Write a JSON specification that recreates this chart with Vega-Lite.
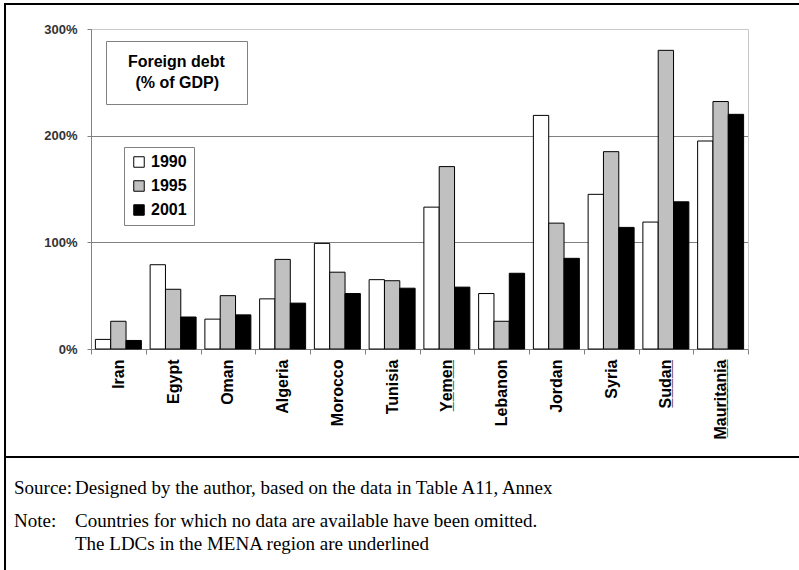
{
  "$schema": "https://vega.github.io/schema/vega-lite/v6.json",
  "padding": {"left": -4, "top": 3, "right": 0, "bottom": 0},
  "background": "white",
  "spacing": 0,
  "bounds": "flush",
  "config": {"view": {"stroke": "#000000", "strokeWidth": 2}, "font": "Liberation Sans"},
  "vconcat": [
    {
      "width": 798,
      "height": 453,
      "data": {
        "values": [
          {"country": "Iran", "year": "1990", "value": 9},
          {"country": "Iran", "year": "1995", "value": 26},
          {"country": "Iran", "year": "2001", "value": 8},
          {"country": "Egypt", "year": "1990", "value": 79},
          {"country": "Egypt", "year": "1995", "value": 56},
          {"country": "Egypt", "year": "2001", "value": 30},
          {"country": "Oman", "year": "1990", "value": 28},
          {"country": "Oman", "year": "1995", "value": 50},
          {"country": "Oman", "year": "2001", "value": 32},
          {"country": "Algeria", "year": "1990", "value": 47},
          {"country": "Algeria", "year": "1995", "value": 84},
          {"country": "Algeria", "year": "2001", "value": 43},
          {"country": "Morocco", "year": "1990", "value": 99},
          {"country": "Morocco", "year": "1995", "value": 72},
          {"country": "Morocco", "year": "2001", "value": 52},
          {"country": "Tunisia", "year": "1990", "value": 65},
          {"country": "Tunisia", "year": "1995", "value": 64},
          {"country": "Tunisia", "year": "2001", "value": 57},
          {"country": "Yemen", "year": "1990", "value": 133},
          {"country": "Yemen", "year": "1995", "value": 171},
          {"country": "Yemen", "year": "2001", "value": 58},
          {"country": "Lebanon", "year": "1990", "value": 52},
          {"country": "Lebanon", "year": "1995", "value": 26},
          {"country": "Lebanon", "year": "2001", "value": 71},
          {"country": "Jordan", "year": "1990", "value": 219},
          {"country": "Jordan", "year": "1995", "value": 118},
          {"country": "Jordan", "year": "2001", "value": 85},
          {"country": "Syria", "year": "1990", "value": 145},
          {"country": "Syria", "year": "1995", "value": 185},
          {"country": "Syria", "year": "2001", "value": 114},
          {"country": "Sudan", "year": "1990", "value": 119},
          {"country": "Sudan", "year": "1995", "value": 280},
          {"country": "Sudan", "year": "2001", "value": 138},
          {"country": "Mauritania", "year": "1990", "value": 195},
          {"country": "Mauritania", "year": "1995", "value": 232},
          {"country": "Mauritania", "year": "2001", "value": 220}
        ]
      },
      "layer": [
        {
          "mark": {"type": "bar", "strokeWidth": 1},
          "encoding": {
            "x": {
              "field": "country",
              "type": "nominal",
              "sort": ["Iran", "Egypt", "Oman", "Algeria", "Morocco", "Tunisia", "Yemen", "Lebanon", "Jordan", "Syria", "Sudan", "Mauritania"],
              "scale": {"range": [86, 743], "paddingInner": 0, "paddingOuter": 0},
              "axis": {
                "title": null,
                "orient": "bottom",
                "offset": -108,
                "labelAngle": -90,
                "labelFont": "Liberation Sans",
                "labelFontSize": 16,
                "labelFontWeight": "bold",
                "labelColor": "#000000",
                "labelPadding": 5,
                "tickBand": "extent",
                "tickSize": 5,
                "tickColor": "#808080",
                "domainColor": "#808080",
                "grid": false,
                "labelExpr": "indexof(['Yemen','Sudan','Mauritania'], datum.label) >= 0 ? replace(datum.label, regexp('(.)', 'g'), '$1\u0332') : datum.label"
              }
            },
            "y": {
              "field": "value",
              "type": "quantitative",
              "scale": {"domain": [0, 300], "range": [345, 25], "nice": false},
              "axis": {
                "title": null,
                "orient": "left",
                "offset": -86,
                "values": [0, 100, 200, 300],
                "labelExpr": "datum.value + '%'",
                "labelFont": "Liberation Sans",
                "labelFontSize": 13,
                "labelFontWeight": "bold",
                "labelColor": "#333333",
                "labelPadding": 10,
                "tickSize": 4,
                "tickColor": "#808080",
                "domainColor": "#808080",
                "grid": true,
                "gridColor": {"condition": {"test": "datum.value === 300", "value": "#c8c8c8"}, "value": "#808080"}
              }
            },
            "xOffset": {"field": "year", "type": "nominal", "scale": {"paddingInner": 0, "paddingOuter": 0.286}},
            "fill": {
              "field": "year",
              "type": "nominal",
              "scale": {"domain": ["1990", "1995", "2001"], "range": ["#ffffff", "#c0c0c0", "#000000"]},
              "legend": {
                "title": null,
                "orient": "none",
                "legendX": 119,
                "legendY": 143,
                "strokeColor": "#808080",
                "fillColor": "#ffffff",
                "padding": 7,
                "symbolType": "square",
                "symbolSize": 110,
                "symbolStrokeColor": "#000000",
                "symbolStrokeWidth": 1,
                "symbolOpacity": 1,
                "labelFont": "Liberation Sans",
                "labelFontSize": 16,
                "labelFontWeight": "bold",
                "labelColor": "#000000",
                "labelOffset": 4,
                "rowPadding": 8
              }
            },
            "stroke": {
              "field": "country",
              "type": "nominal",
              "scale": {"range": ["#000000"]},
              "legend": {
                "values": [],
                "title": ["\u200b\u00a0\u00a0Foreign debt\u00a0\u00a0\u200b", "\u200b\u00a0\u00a0\u00a0\u2009(% of GDP)"],
                "orient": "none",
                "legendX": 101,
                "legendY": 37,
                "strokeColor": "#808080",
                "fillColor": "#ffffff",
                "padding": 13,
                "titleFont": "Liberation Sans",
                "titleFontSize": 16,
                "titleFontWeight": "bold",
                "titleColor": "#000000",
                "titleAlign": "left",
                "titleAnchor": "start",
                "titleLineHeight": 21,
                "titlePadding": 0
              }
            }
          }
        },
        {
          "mark": {"type": "rule", "opacity": 0},
          "encoding": {
            "y": {
              "field": "value",
              "type": "quantitative",
              "axis": {
                "title": null,
                "orient": "right",
                "offset": -55,
                "labels": false,
                "ticks": false,
                "grid": false,
                "domainColor": "#c8c8c8"
              }
            }
          }
        }
      ],
      "resolve": {"axis": {"y": "independent"}}
    },
    {
      "width": 798,
      "height": 130,
      "data": {
        "values": [
          {"part": "head", "line": "1", "text": "Source:"},
          {"part": "body", "line": "1", "text": "Designed by the author, based on the data in Table A11, Annex"},
          {"part": "head", "line": "2", "text": "Note:"},
          {"part": "body", "line": "2", "text": "Countries for which no data are available have been omitted.\nThe LDCs in the MENA region are underlined"}
        ]
      },
      "mark": {"type": "text", "align": "left", "baseline": "alphabetic", "font": "Liberation Serif", "fontSize": 19, "color": "#000000", "lineBreak": "\n", "lineHeight": 23},
      "encoding": {
        "x": {"field": "part", "type": "nominal", "scale": {"type": "point", "domain": ["head", "body"], "range": [9, 70], "padding": 0}, "axis": null},
        "y": {"field": "line", "type": "ordinal", "scale": {"type": "point", "domain": ["1", "2"], "range": [37, 70], "padding": 0}, "axis": null},
        "text": {"field": "text", "type": "nominal"}
      }
    }
  ]
}
